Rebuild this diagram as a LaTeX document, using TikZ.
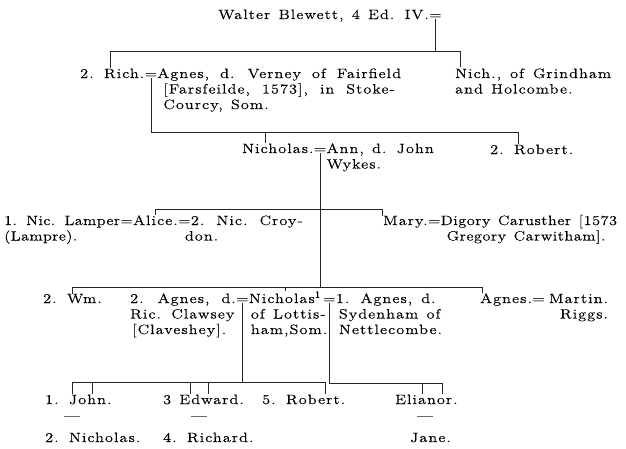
\documentclass[tikz,border=0pt]{standalone}
\usepackage{fontspec}
\setmainfont{lmroman12-regular.otf}[FakeStretch=1.2, LetterSpace=8, WordSpace=1.3, FakeBold=0.3]
\usetikzlibrary{positioning}
\newcommand{\pedfont}{\fontsize{13.5}{15.5}\selectfont}
\newcommand{\wordgap}[1]{\spaceskip #1\relax}
\newcommand{\tightfont}[1]{\addfontfeatures{LetterSpace=#1}}
\newcommand{\lines}[1]{\begin{tabular}[t]{@{}l@{}}#1\end{tabular}}
\newcommand{\rlines}[1]{\begin{tabular}[t]{@{}r@{}}#1\end{tabular}}
\tikzset{pedline/.style={line width=0.55pt, black!85}}

\begin{document}
\begin{tikzpicture}[x=1pt, y=-1pt,
    person/.style={anchor=base west, inner sep=0pt, font=\pedfont},
    wed/.style={anchor=base west, inner sep=0pt, font=\pedfont}]
            \useasboundingbox (0,0) rectangle (626,448);
            % Walter and his sons
            \node[person] (walter) at (218,19) {Walter Blewett, 4 Ed. IV.};
            \node[wed] (w0) at (walter.base east) {=};
            \node[person] (rich) at (80,78) {2. Rich.};
            \node[wed] (w1) at (rich.base east) {=};
            \node[person] (agnesv) at (w1.base east)
                {\lines{\wordgap{11pt}Agnes, d. Verney of Fairfield\\\wordgap{12pt}\hspace{6pt}[Farsfeilde, 1573], in Stoke-\\\hspace{6pt}Courcy, Som.}};
            \node[person] (nich) at (455,78) {\lines{\wordgap{9pt}Nich., of Grindham\\and Holcombe.}};
            \coordinate (b1l) at (110,51);
            \coordinate (b1r) at (460,51);
            \draw[pedline] (w0.south) -- (w0.south |- b1l);
            \draw[pedline] (b1l |- rich.north) -- (b1l) -- (b1r) -- (b1r |- nich.north);
            % Nicholas and Ann
            \node[person] (nicholas) at (242,153) {Nicholas.};
            \node[wed] (w2) at (nicholas.base east) {=};
            \node[person] (ann) at (w2.base east) {\lines{Ann, d. John\\Wykes.}};
            \node[person] (robert) at (490,154) {2. Robert.};
            \coordinate (b2r) at (518,132);
            \coordinate (t2) at (265,132);
            \draw[pedline] (w1.south) |- (b2r) -- (b2r |- robert.north);
            \draw[pedline] (t2) -- (t2 |- nicholas.north);
            % Alice, Mary
            \node[person] (lamper) at (4,225) {\tightfont{3}\lines{1. Nic. Lamper\\(Lampre).}};
            \node[wed] (w3) at (lamper.base east) {=};
            \node[person] (alice) at (w3.base east) {Alice.};
            \node[wed] (w4) at (alice.base east) {=};
            \node[person] (croydon) at (w4.base east) {\lines{\wordgap{10pt}2. Nic. Croy-\\\hspace{-6pt}don.}};
            \node[person] (mary) at (383,225) {Mary.};
            \node[wed] (w5) at (mary.base east) {=};
            \node[person] (digory) at (w5.base east)
                {\tightfont{4}\lines{Digory Carusther [1573\\\hspace{6pt}Gregory Carwitham].}};
            \coordinate (b3l) at (alice.north |- 0,209);
            \coordinate (b3r) at (382,209);
            \draw[pedline] (b3l |- alice.north) -- (b3l) -- (b3r) -- (b3r |- mary.north);
            % Wm, Nicholas, Agnes
            \node[person] (wm) at (43,303) {2. Wm.};
            \node[person] (agnesc) at (130,303) {\lines{\wordgap{12pt}2. Agnes, d.\\Ric. Clawsey\\\hspace{2pt}[Claveshey].}};
            \node[wed] (w6) at (agnesc.base east) {=};
            \node[person] (nich1) at (w6.base east) {\lines{Nicholas\textsuperscript{1}\\\hspace{2pt}of Lottis-\\\hspace{2pt}ham,Som.}};
            \node[wed] (w7) at (323,303) {=};
            \node[person] (agness) at (w7.base east) {\lines{\wordgap{9pt}1. Agnes, d.\\\hspace{3pt}Sydenham of\\\hspace{3pt}Nettlecombe.}};
            \node[person] (agnesr) at (480,303) {Agnes.};
            \node[wed] (w8) at (agnesr.base east) {=};
            \node[person, xshift=4pt] (martin) at (w8.base east) {\rlines{Martin.\\Riggs.}};
            \coordinate (b4l) at (72,287);
            \coordinate (b4r) at (482,287);
            \coordinate (t4) at (285,287);
            \draw[pedline] (w2.south) -- (w2.south |- b4l);
            \draw[pedline] (b4l |- wm.north) -- (b4l) -- (b4r) -- (b4r |- agnesr.north);
            \draw[pedline] (t4) -- (t4 |- nich1.north);
            % grandchildren
            \node[person] (john) at (45,404) {1. John.};
            \node[person] (edward) at (163,404) {3 Edward.};
            \node[person] (robert5) at (262,404) {5. Robert.};
            \node[person] (elianor) at (395,404) {Elianor.};
            \node[wed, anchor=base] (dash1) at (72,420) {—};
            \node[wed, anchor=base] (dash2) at (199,420) {—};
            \node[wed, anchor=base] (dash3) at (425,420) {—};
            \node[person] (nich2) at (45,442) {2. Nicholas.};
            \node[person] (richard) at (163,442) {4. Richard.};
            \node[person] (jane) at (410,442) {Jane.};
            \coordinate (b5l) at (72,382);
            \coordinate (b5r) at (325,382);
            \draw[pedline] (w6.south) -- (w6.south |- b5l);
            \draw[pedline] (b5l |- john.north) -- (b5l) -- (b5r) -- (b5r |- robert5.north);
            \foreach \tx/\kid in {92/john, 190/edward, 208/edward} {
                \coordinate (t5) at (\tx,382);
                \draw[pedline] (t5) -- (t5 |- \kid.north);
            }
            \coordinate (b6r) at (442,383);
            \coordinate (t6) at (422,383);
            \draw[pedline] (w7.south) |- (b6r) -- (b6r |- elianor.north);
            \draw[pedline] (t6) -- (t6 |- elianor.north);
        \end{tikzpicture}
\end{document}
